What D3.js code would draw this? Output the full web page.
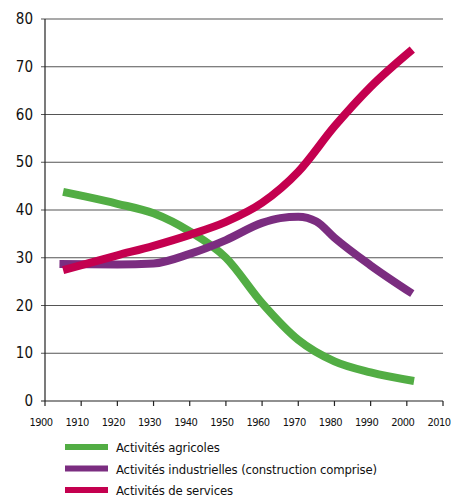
<!DOCTYPE html>
<html>
<head>
<script src="https://d3js.org/d3.v7.min.js"></script>
<style>
  body { margin: 0; background: #fff; }
  text { font-family: "Liberation Sans Narrow", "DejaVu Sans Condensed", sans-serif; fill: #111; }
</style>
</head>
<body>
<svg width="464" height="497"></svg>
<script>
// data (year, share %)
const agricoles = [[1905,43.8],[1910,43],[1920,41.3],[1930,39.3],[1940,35.5],[1950,30],[1960,20.5],[1970,12.8],[1980,8.3],[1990,6],[2002,4.2]];
const industrielles = [[1904,28.7],[1920,28.6],[1930,28.8],[1940,30.8],[1950,33.7],[1960,37.3],[1965,38.3],[1970,38.6],[1975,37.6],[1980,34.2],[1990,28.4],[2001.5,22.5]];
const services = [[1905,27.4],[1920,30.5],[1930,32.5],[1940,34.8],[1950,37.5],[1960,41.5],[1970,48],[1980,57.5],[1990,65.8],[2001.5,73.6]];
const yTicks = [0,10,20,30,40,50,60,70,80];
const xTicks = [1900,1910,1920,1930,1940,1950,1960,1970,1980,1990,2000,2010];
const legendLabels = ["Activités agricoles", "Activités industrielles (construction comprise)", "Activités de services"];
const colors = ["#52ad44", "#7b2d80", "#c4004f"];

const svg = d3.select("svg");
const x = d3.scaleLinear().domain([1900, 2010]).range([45, 443]);
const y = d3.scaleLinear().domain([0, 80]).range([401, 19]);

// grid lines
svg.append("g").selectAll("line")
  .data(yTicks.slice(1))
  .enter().append("line")
  .attr("x1", 41).attr("x2", 443)
  .attr("y1", d => y(d)).attr("y2", d => y(d))
  .attr("stroke", "#555").attr("stroke-width", 1.2);

// y labels
svg.append("g").selectAll("text")
  .data(yTicks)
  .enter().append("text")
  .attr("x", 33).attr("y", d => y(d) + 5)
  .attr("text-anchor", "end")
  .style("font-size", "15px")
  .text(d => d);

// axes
svg.append("line").attr("x1", 45).attr("x2", 45).attr("y1", y(80)).attr("y2", y(0))
  .attr("stroke", "#222").attr("stroke-width", 1.2);
svg.append("line").attr("x1", 41).attr("x2", 443).attr("y1", y(0)).attr("y2", y(0))
  .attr("stroke", "#222").attr("stroke-width", 1.2);
svg.append("g").selectAll("line")
  .data(xTicks)
  .enter().append("line")
  .attr("x1", d => x(d)).attr("x2", d => x(d))
  .attr("y1", y(0)).attr("y2", y(0) + 5)
  .attr("stroke", "#222").attr("stroke-width", 1.2);
svg.append("g").selectAll("text")
  .data(xTicks)
  .enter().append("text")
  .attr("x", d => x(d) - 4).attr("y", 426)
  .attr("text-anchor", "middle")
  .style("font-size", "11px")
  .style("letter-spacing", "-0.5px")
  .text(d => d);

// series
const line = d3.line()
  .x(d => x(d[0])).y(d => y(d[1]))
  .curve(d3.curveMonotoneX);

[agricoles, industrielles, services].forEach((s, i) => {
  svg.append("path")
    .attr("d", line(s))
    .attr("fill", "none")
    .attr("stroke", colors[i])
    .attr("stroke-width", 8);
});

// legend
const leg = svg.append("g").selectAll("g")
  .data(legendLabels)
  .enter().append("g")
  .attr("transform", (d, i) => "translate(0," + (447 + i * 21.5) + ")");
leg.append("rect")
  .attr("x", 65).attr("y", -3).attr("width", 43).attr("height", 6)
  .attr("fill", (d, i) => colors[i]);
leg.append("text")
  .attr("x", 116).attr("y", 5)
  .style("font-size", "13px")
  .style("letter-spacing", "-0.15px")
  .text(d => d);
</script>
</body>
</html>
